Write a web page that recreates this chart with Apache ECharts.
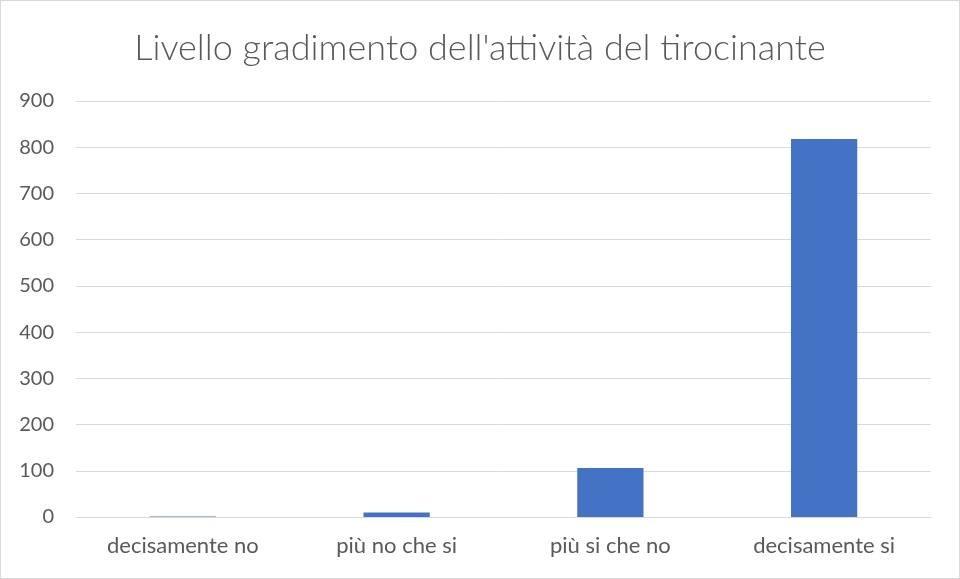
<!DOCTYPE html>
<html>
<head>
<meta charset="utf-8">
<script src="https://cdn.jsdelivr.net/npm/echarts@6/dist/echarts.min.js"></script>
<style>
  html, body { margin: 0; padding: 0; background: #fff; }
  #chart { width: 958px; height: 577px; border: 1px solid #d9d9d9; }
</style>
</head>
<body>
<div id="chart"></div>
<script>
// dati
var categories = ["decisamente no", "più no che si", "più si che no", "decisamente si"];
var values = [1, 10, 106, 818];
var titleText = "Livello gradimento dell'attività del tirocinante";

(function () {
  var myChart = echarts.init(document.getElementById("chart"));
  var option = {
    animation: false,
    title: {
      text: titleText,
      left: "center",
      top: 24,
      textStyle: {
        color: "#595959",
        fontFamily: "Lato",
        fontWeight: 300,
        fontSize: 36
      }
    },
    grid: {
      left: 75,
      right: 28,
      top: 100,
      bottom: 61
    },
    xAxis: {
      type: "category",
      data: categories,
      axisTick: { show: false },
      axisLine: { lineStyle: { color: "#d9d9d9", width: 1 } },
      axisLabel: {
        color: "#595959",
        fontFamily: "Lato",
        fontSize: 22,
        margin: 18
      }
    },
    yAxis: {
      type: "value",
      min: 0,
      max: 900,
      interval: 100,
      axisLine: { show: false },
      axisTick: { show: false },
      axisLabel: {
        color: "#595959",
        fontFamily: "Lato",
        fontSize: 20,
        margin: 22
      },
      splitLine: { lineStyle: { color: "#d9d9d9", width: 1 } }
    },
    series: [
      {
        type: "bar",
        data: values,
        barWidth: "31%",
        itemStyle: { color: "#4472c4" }
      }
    ]
  };
  myChart.setOption(option);
  window.addEventListener("resize", function () {
    myChart.resize();
  });
})();
</script>
</body>
</html>
